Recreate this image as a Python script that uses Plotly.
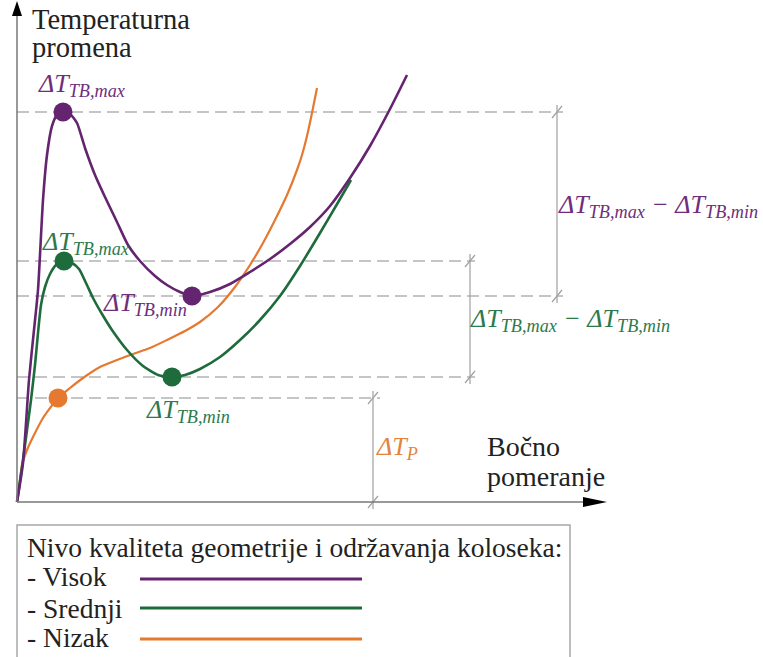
import plotly.graph_objects as go

# ---------------- data (schematic values) ----------------
visok_x = [0, 6, 12, 17, 21, 26, 30, 35, 40, 46, 53, 60, 68, 78, 88, 100, 111, 123, 138, 150, 163, 175,
           193, 213, 233, 253, 273, 293, 313, 333, 353, 373, 390]
visok_y = [0, 39, 122, 172, 212, 302, 347, 376, 387, 390, 388, 379, 354, 327, 305, 280, 257, 241, 226, 217, 210, 206,
           210, 218, 230, 243, 258, 275, 296, 324, 356, 393, 427]

srednji_x = [0, 5, 10, 14, 18, 21, 24, 28, 33, 39, 47, 55, 62, 69, 76, 85, 95, 110, 126, 141, 155,
             168, 183, 203, 223, 243, 263, 283, 303, 323, 334]
srednji_y = [0, 35, 72, 102, 137, 169, 197, 215, 228, 237, 241, 239, 233, 219, 204, 188, 172, 152, 136, 127, 125,
             127, 133, 145, 162, 182, 206, 236, 269, 303, 322]

nizak_x = [0, 2, 5, 10, 16, 26, 41, 53, 66, 83, 100, 116, 133, 150, 168, 183, 201, 218, 233, 246, 258, 270,
           280, 285, 290, 295, 300]
nizak_y = [0, 14, 37, 52, 65, 84, 104, 114, 124, 135, 142, 148, 154, 162, 171, 180, 195, 215, 237, 259, 282, 307,
           332, 347, 366, 389, 414]

# characteristic points: ΔT_TB,max and ΔT_TB,min (Visok, Srednji), ΔT_P (Nizak)
visok_max = (46, 390)
visok_min = (175, 206)
srednji_max = (47, 241)
srednji_min = (155, 125)
nizak_p = (41, 104)

# extents of the dashed reference lines and positions of the dimension lines
dim_visok_x = 540
dim_srednji_x = 453
dim_nizak_x = 356
dash_end_visok = 546
dash_end_srednji = 458
dash_end_nizak = 363

series_names = ["- Visok", "- Srednji", "- Nizak"]
legend_title = "Nivo kvaliteta geometrije i održavanja koloseka:"
y_title = ["Temperaturna", "promena"]
x_title = ["Bočno", "pomeranje"]

# ---------------- styles ----------------
C_VIS = "#65246F"
C_SRE = "#1E6B3C"
C_NIZ = "#E4792F"
T_VIS = "#6E2E7C"
T_SRE = "#2C7A4C"
T_NIZ = "#E2843F"
GRID = "#B3B3B3"
DIM = "#A0A0A0"
AXIS = "#777777"
FONT = "Liberation Serif"

fig = go.Figure()

# dashed reference lines
for yv, xe in [(visok_max[1], dash_end_visok), (srednji_max[1], dash_end_srednji),
               (visok_min[1], dash_end_visok), (srednji_min[1], dash_end_srednji),
               (nizak_p[1], dash_end_nizak)]:
    fig.add_shape(type="line", x0=0, x1=xe, y0=yv, y1=yv, layer="below",
                  line=dict(color=GRID, width=1.5, dash="12px,6px"))

# dimension lines with tick slashes
def dim_line(x, y0, y1, ext=7):
    fig.add_shape(type="line", x0=x, x1=x, y0=y0 - ext, y1=y1 + ext, layer="below",
                  line=dict(color=DIM, width=1.2))
    for yy in (y0, y1):
        fig.add_shape(type="line", x0=x - 5, x1=x + 5, y0=yy - 6, y1=yy + 6, layer="below",
                      line=dict(color=DIM, width=1.2))

dim_line(dim_visok_x, visok_min[1], visok_max[1])
dim_line(dim_srednji_x, srednji_min[1], srednji_max[1])
dim_line(dim_nizak_x, 0, nizak_p[1])

# axes
fig.add_shape(type="line", x0=0, x1=0, y0=0, y1=488, line=dict(color=AXIS, width=1.5))
fig.add_shape(type="line", x0=0, x1=570, y0=0, y1=0, line=dict(color=AXIS, width=1.5))
fig.add_shape(type="path", path="M -5,486 L 0,501 L 5,486 Z", fillcolor="black", line=dict(width=0, color="black"))
fig.add_shape(type="path", path="M 566,-5 L 590,0 L 566,5 Z", fillcolor="black", line=dict(width=0, color="black"))

# curves
for xs, ys, c, w in [(nizak_x, nizak_y, C_NIZ, 2.2), (srednji_x, srednji_y, C_SRE, 2.6), (visok_x, visok_y, C_VIS, 2.6)]:
    fig.add_trace(go.Scatter(x=xs, y=ys, mode="lines", line=dict(color=c, width=w, shape="spline", smoothing=0.6),
                             hoverinfo="skip", showlegend=False))

# characteristic markers
for pts, c in [([visok_max, visok_min], C_VIS), ([srednji_max, srednji_min], C_SRE), ([nizak_p], C_NIZ)]:
    fig.add_trace(go.Scatter(x=[p[0] for p in pts], y=[p[1] for p in pts], mode="markers",
                             marker=dict(color=c, size=19, line=dict(width=0)), hoverinfo="skip", showlegend=False))

# labels
def lab(x, y, text, color, size=26, xanchor="left", yanchor="middle"):
    fig.add_annotation(x=x, y=y, text=text, showarrow=False, xanchor=xanchor, yanchor=yanchor,
                       font=dict(family=FONT, size=size, color=color), align="left", borderpad=0)

TBMAX = "<i>ΔT<sub>TB,max</sub></i>"
TBMIN = "<i>ΔT<sub>TB,min</sub></i>"
lab(20, 417, TBMAX, T_VIS)
lab(24, 259, TBMAX, T_SRE)
lab(85, 198, TBMIN, T_VIS)
lab(128, 91, TBMIN, T_SRE)
lab(540, 296, TBMAX + " <i>−</i> " + TBMIN, T_VIS)
lab(452, 182, TBMAX + " <i>−</i> " + TBMIN, T_SRE)
lab(358, 54, "<i>ΔT<sub>P</sub></i>", T_NIZ)

lab(14, 483, y_title[0], "#222222", size=28.5)
lab(14, 455, y_title[1], "#222222", size=28.5)
lab(469, 56, x_title[0], "#222222", size=28)
lab(469, 26, x_title[1], "#222222", size=28)

# legend box
fig.add_shape(type="rect", x0=0, x1=553, y0=-23, y1=-170, line=dict(color="#A8A8A8", width=1.5))
lab(9, -45, legend_title, "#222222", size=27.5)
leg_y = [-77, -106, -137]
leg_text_y = [-74, -106, -135]
for name, yy, ty, c in zip(series_names, leg_y, leg_text_y, [C_VIS, C_SRE, C_NIZ]):
    lab(9, ty, name, "#222222", size=27.5)
    fig.add_trace(go.Scatter(x=[123, 345], y=[yy, yy], mode="lines", line=dict(color=c, width=3),
                             hoverinfo="skip", showlegend=False))

fig.update_layout(
    width=763, height=657, margin=dict(l=0, r=0, t=0, b=0),
    paper_bgcolor="white", plot_bgcolor="white", showlegend=False,
    xaxis=dict(range=[-17, 746], visible=False, fixedrange=True),
    yaxis=dict(range=[-155, 502], visible=False, fixedrange=True),
)

fig.write_html("out.html", config={"displayModeBar": False, "staticPlot": True},
               post_script="document.body.style.margin='0px';document.body.style.overflow='hidden';")
